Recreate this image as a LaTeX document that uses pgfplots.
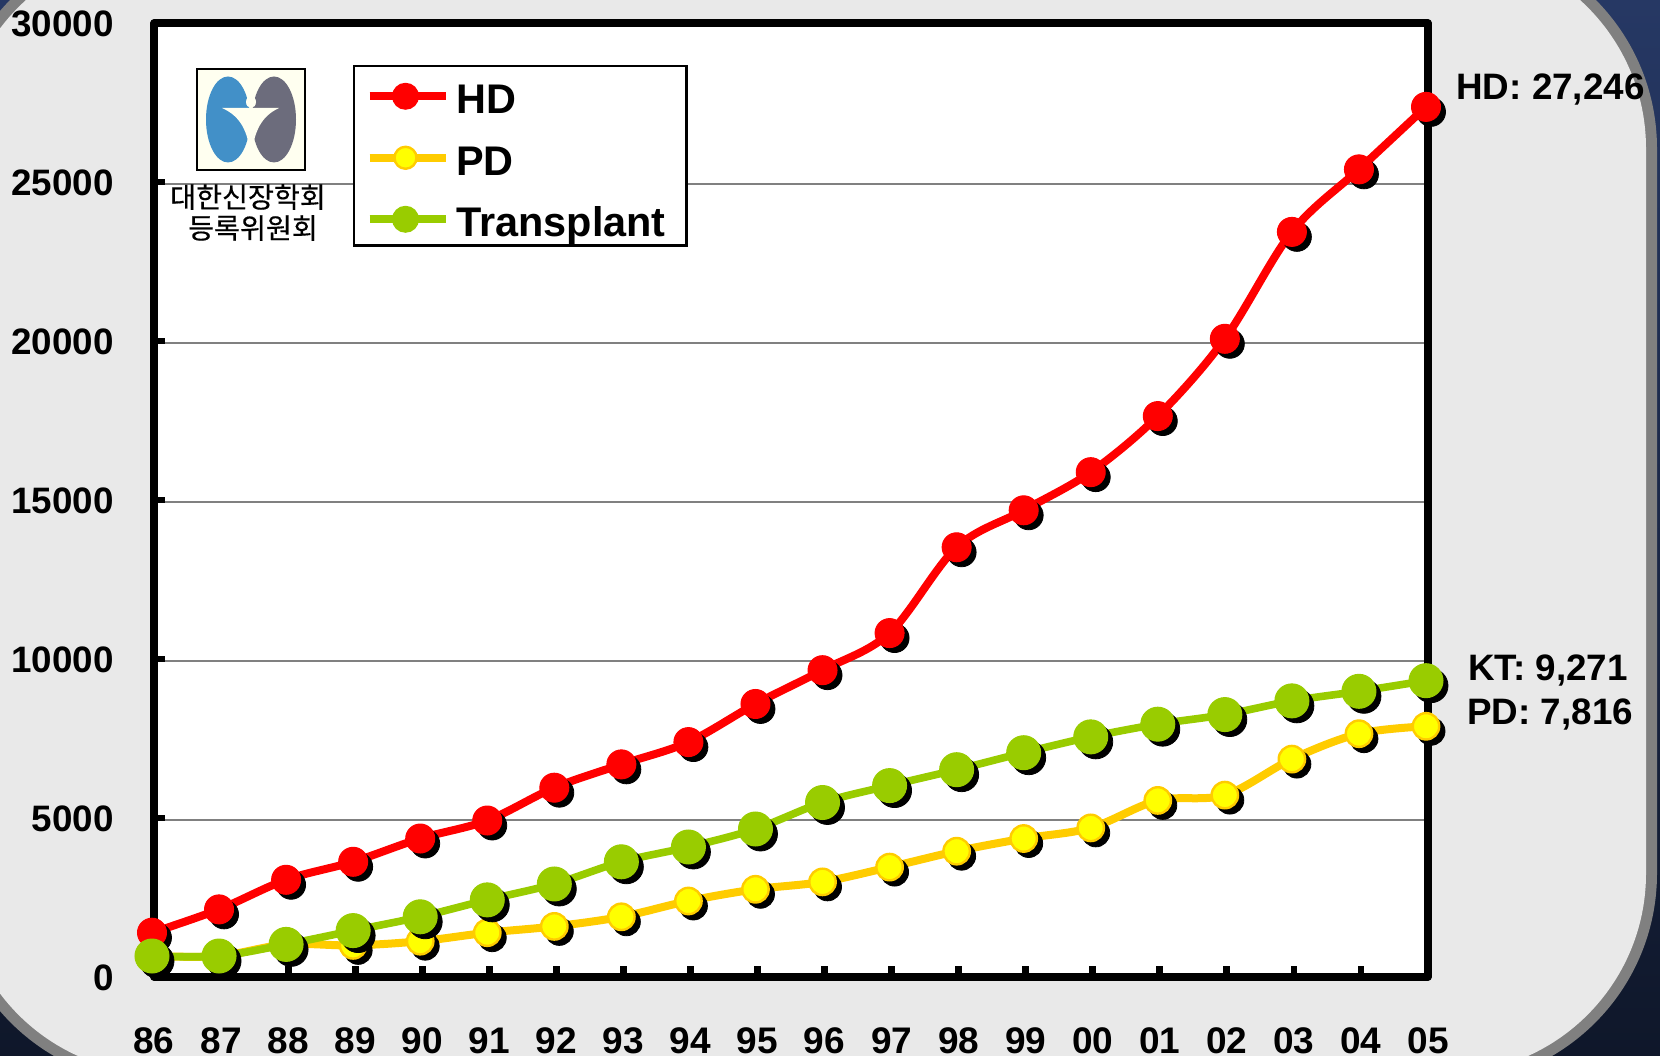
\documentclass[border=0pt]{standalone}
\usepackage{fontspec}
\setmainfont{Liberation Sans}
\newfontfamily\krfont[FakeBold=0.4]{Noto Sans CJK KR}
\usepackage{pgfplots}
\usepackage{pgfplotstable}
\pgfplotsset{compat=1.18}
\definecolor{hdred}{HTML}{FF0000}
\definecolor{pdline}{HTML}{FFCC00}
\definecolor{pdfill}{HTML}{FFFF00}
\definecolor{ktgreen}{HTML}{99CC00}
\definecolor{panel}{HTML}{E9E9E9}
\definecolor{band}{HTML}{808080}
\definecolor{navytop}{HTML}{263864}
\definecolor{navymid}{HTML}{2E4A85}
\definecolor{navybot}{HTML}{0F172A}
\definecolor{logobg}{HTML}{FFFFF0}
\definecolor{logoblue}{HTML}{4290C8}
\definecolor{logogray}{HTML}{6C6C7C}
\pgfplotstableread{
x hd pd kt
0 1393 660 660
1 2126 660 660
2 3057 1025 1025
3 3623 994 1459
4 4355 1126 1893
5 4921 1393 2425
6 5953 1591 2925
7 6686 1893 3623
8 7387 2390 4088
9 8585 2758 4654
10 9648 2991 5487
11 10815 3456 6019
12 13513 3956 6519
13 14676 4355 7053
14 15875 4689 7551
15 17639 5553 7950
16 20069 5720 8252
17 23431 6852 8683
18 25397 7651 8984
19 27362 7884 9318
}\datatable
\begin{document}
\begin{tikzpicture}
\path[use as bounding box] (0,0) rectangle (830pt,527.5pt);
% page background, in reference pixels
\begin{scope}[x=0.5pt,y=-0.5pt,yshift=527.5pt]
\clip (0,0) rectangle (1660,1055);
\shade[top color=navytop,middle color=navymid,bottom color=navybot] (0,0) rectangle (1660,1055);
\fill[band,rounded corners=105.5pt] (-51,-62.5) rectangle (1657,1084.5);
\fill[panel,rounded corners=100pt] (-40,-51.5) rectangle (1646,1073.5);
\end{scope}
% grid, which sits 2 px below the ticks in the reference
\begin{axis}[
  at={(77pt,39pt)},anchor=south west,yshift=-1pt,
  scale only axis,width=637pt,height=477pt,
  xmin=0,xmax=19,ymin=0,ymax=30000,
  axis line style={draw=none},
  axis background/.style={fill=white},
  xtick=\empty,ytick={5000,10000,15000,20000,25000},yticklabels={},
  tick style={draw=none},
  ymajorgrids,
  major grid style={draw=band,line width=0.6pt},
]
\addplot[draw=none] coordinates {(0,0)};
\end{axis}
\begin{scope}[x=0.5pt,y=-0.5pt,yshift=527.5pt]
% logo
\draw[black,line width=0.9pt,fill=logobg] (197,69) rectangle (305,170);
\fill[logoblue] (228,119.5) ellipse (11pt and 21.5pt);
\fill[logogray] (274,119.5) ellipse (11pt and 21.5pt);
\fill[logobg] (251,102) ellipse (2.5pt and 3pt);
\fill[logobg] (222,108) -- (279,108) .. controls (262,116) and (254,130) .. (251,158) .. controls (248,130) and (240,116) .. (222,108) -- cycle;
\node[font=\krfont\fontsize{14.1pt}{15pt}\selectfont,inner sep=0pt] at (248,197) {대한신장학회};
\node[font=\krfont\fontsize{14.1pt}{15pt}\selectfont,inner sep=0pt] at (253,228) {등록위원회};
\node[font=\bfseries\fontsize{18.4pt}{20pt}\selectfont,inner sep=0pt,anchor=west] at (1456,90) {HD: 27,246};
\node[font=\bfseries\fontsize{18.4pt}{20pt}\selectfont,inner sep=0pt,anchor=west] at (1468,671) {KT: 9,271};
\node[font=\bfseries\fontsize{18.4pt}{20pt}\selectfont,inner sep=0pt,anchor=west] at (1467,715) {PD: 7,816};
\end{scope}
\begin{axis}[
  at={(77pt,39pt)},anchor=south west,
  scale only axis,width=637pt,height=477pt,
  xmin=0,xmax=19,ymin=0,ymax=30000,
  clip=false,
  axis line style={line width=3.6pt,line join=round,black},
  tick align=inside,tick pos=left,
  major tick length=5.5pt,
  tick style={line width=3.4pt,black},
  xtick={0,...,19},
  xticklabels={86,87,88,89,90,91,92,93,94,95,96,97,98,99,00,01,02,03,04,05},
  ytick={0,5000,10000,15000,20000,25000,30000},
  scaled y ticks=false,
  yticklabel style={/pgf/number format/1000 sep={},/pgf/number format/assume math mode=true,font=\bfseries\fontsize{18.4pt}{20pt}\selectfont,xshift=-20pt,yshift=-0.5pt,anchor=east,inner sep=0pt},
  xticklabel style={font=\bfseries\fontsize{18.5pt}{20pt}\selectfont,yshift=-38pt,anchor=base,text height=0pt,text depth=0pt},
  legend style={at={(0.1559,0.956)},anchor=north west,draw=black,line width=1.1pt,fill=white,
    font=\bfseries\fontsize{20.7pt}{22pt}\selectfont,row sep=8.95pt,inner xsep=6pt,inner ysep=3.2pt,
    /tikz/every odd column/.append style={column sep=3.5pt},
    nodes={inner sep=0pt,text height=20.65pt,text depth=1.15pt}},
  legend cell align=left,
  legend image code/.code={},
]
\addplot[forget plot,only marks,mark=*,mark size=7.25pt,mark options={draw=black,fill=black},xshift=1.5pt,yshift=-2.5pt] table[x=x,y=hd] {\datatable};
\addplot[forget plot,smooth,tension=0.55,hdred,line width=4pt,mark=*,mark size=7.25pt,mark options={draw=hdred,fill=hdred,solid,line width=0.5pt},xshift=-1pt] table[x=x,y=hd] {\datatable};
\addplot[forget plot,only marks,mark=*,mark size=7pt,mark options={draw=black,fill=black},xshift=1.5pt,yshift=-2.5pt] table[x=x,y=pd] {\datatable};
\addplot[forget plot,smooth,tension=0.55,pdline,line width=4pt,mark=*,mark size=6.6pt,mark options={draw=pdline,fill=pdfill,solid,line width=1.2pt},xshift=-1pt] table[x=x,y=pd] {\datatable};
\addplot[forget plot,only marks,mark=*,mark size=8.5pt,mark options={draw=black,fill=black},xshift=1.5pt,yshift=-2.5pt] table[x=x,y=kt] {\datatable};
\addplot[forget plot,smooth,tension=0.55,ktgreen,line width=3.8pt,mark=*,mark size=8.5pt,mark options={draw=ktgreen,fill=ktgreen,solid,line width=0.5pt},xshift=-1pt] table[x=x,y=kt] {\datatable};
\addlegendimage{legend image code/.code={\draw[hdred,line width=3.8pt] (0,-1pt) -- (38pt,-1pt);\fill[hdred] (18pt,-1pt) circle (6.2pt);}}
\addlegendentry{HD}
\addlegendimage{legend image code/.code={\draw[pdline,line width=3.8pt] (0,-1pt) -- (38pt,-1pt);\draw[pdline,fill=pdfill,line width=1.2pt] (18pt,-1pt) circle (5.5pt);}}
\addlegendentry{PD}
\addlegendimage{legend image code/.code={\draw[ktgreen,line width=3.8pt] (0,-1pt) -- (38pt,-1pt);\fill[ktgreen] (18pt,-1pt) circle (6.2pt);}}
\addlegendentry{Transplant\hspace{4.4pt}\null}
\end{axis}
\end{tikzpicture}
\end{document}
